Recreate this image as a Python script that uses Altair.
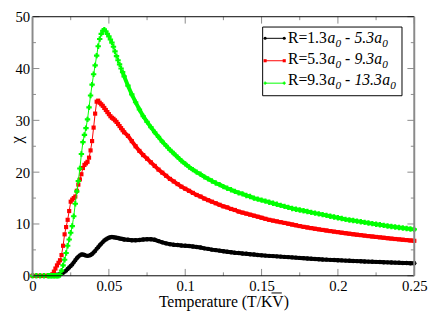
import altair as alt
import pandas as pd

# ---------------- data ----------------
T = [0.0, 0.0025, 0.005, 0.0075, 0.01,
     0.011, 0.012, 0.013, 0.014, 0.015, 0.016, 0.017, 0.018, 0.019, 0.020,
     0.021, 0.022, 0.023, 0.024, 0.025, 0.026, 0.027, 0.028, 0.029, 0.030,
     0.031, 0.032, 0.033, 0.034, 0.035, 0.036, 0.037, 0.038, 0.039, 0.040,
     0.041, 0.042, 0.043, 0.044, 0.045, 0.046, 0.047, 0.048, 0.049, 0.050,
     0.051, 0.052, 0.053, 0.054, 0.055, 0.056, 0.057, 0.058, 0.059, 0.060,
     0.0625, 0.065, 0.0675, 0.07, 0.0725, 0.075, 0.0775, 0.08, 0.0825, 0.085,
     0.0875, 0.09, 0.0925, 0.095, 0.0975, 0.1, 0.1025, 0.105, 0.1075, 0.11,
     0.1125, 0.115, 0.1175, 0.12, 0.1225, 0.125, 0.1275, 0.13, 0.1325, 0.135,
     0.1375, 0.14, 0.1425, 0.145, 0.1475, 0.15, 0.1525, 0.155, 0.1575, 0.16,
     0.1625, 0.165, 0.1675, 0.17, 0.1725, 0.175, 0.1775, 0.18, 0.1825, 0.185,
     0.1875, 0.19, 0.1925, 0.195, 0.1975, 0.2, 0.2025, 0.205, 0.2075, 0.21,
     0.2125, 0.215, 0.2175, 0.22, 0.2225, 0.225, 0.2275, 0.23, 0.2325, 0.235,
     0.2375, 0.24, 0.2425, 0.245, 0.2475, 0.25]

chi_black = [0, 0, 0, 0, 0.02,
     0.05, 0.05, 0.1, 0.1, 0.15, 0.2, 0.2, 0.3, 0.45, 0.6,
     0.8, 1.0, 1.3, 1.6, 1.9, 2.2, 2.6, 3.0, 3.4, 3.7,
     3.95, 4.1, 4.1, 4.0, 3.9, 3.85, 3.9, 4.0, 4.2, 4.5,
     4.8, 5.2, 5.5, 5.9, 6.2, 6.5, 6.8, 7.0, 7.2, 7.35,
     7.45, 7.5, 7.45, 7.4, 7.35, 7.3, 7.2, 7.15, 7.1, 7.0,
     6.95, 6.85, 6.85, 6.9, 7.0, 7.05, 7.05, 6.95, 6.7, 6.45,
     6.25, 6.1, 6.0, 5.95, 5.85, 5.8, 5.75, 5.65, 5.55, 5.45,
     5.3, 5.2, 5.05, 4.95, 4.85, 4.75, 4.65, 4.55, 4.45, 4.4,
     4.3, 4.25, 4.15, 4.1, 4.0, 3.95, 3.9, 3.85, 3.8, 3.75,
     3.7, 3.65, 3.6, 3.55, 3.5, 3.45, 3.4, 3.35, 3.3, 3.25,
     3.2, 3.15, 3.12, 3.08, 3.04, 3.0, 2.97, 2.93, 2.9, 2.86,
     2.83, 2.8, 2.77, 2.74, 2.71, 2.68, 2.65, 2.62, 2.59, 2.56,
     2.54, 2.51, 2.48, 2.46, 2.43, 2.41]

chi_red = [0, 0, 0, 0, 0.02,
     0.05, 0.1, 0.3, 0.8, 1.4, 2.0, 2.5, 3.0, 4.0, 5.8,
     8.0, 9.4, 10.8, 12.5, 14.3, 14.7, 15.0, 15.3, 16.4, 17.6,
     18.6, 19.6, 20.8, 21.4, 21.7, 22.0, 22.8, 24.2, 26.0, 28.6,
     31.3, 33.6, 33.8, 33.4, 33.1, 32.8, 32.4, 32.0, 31.6, 31.2,
     30.8, 30.5, 30.3, 30.0, 29.7, 29.3, 28.9, 28.5, 28.1, 27.7,
     27.0, 26.0, 25.0, 24.1, 23.3, 22.6, 21.9, 21.2, 20.5, 19.9,
     19.3, 18.7, 18.2, 17.7, 17.2, 16.8, 16.4, 16.0, 15.6, 15.3,
     14.9, 14.6, 14.3, 14.0, 13.7, 13.4, 13.2, 12.9, 12.7, 12.4,
     12.2, 12.0, 11.8, 11.6, 11.4, 11.2, 11.0, 10.8, 10.65, 10.5,
     10.35, 10.2, 10.05, 9.9, 9.75, 9.6, 9.45, 9.33, 9.2, 9.08,
     8.96, 8.85, 8.74, 8.63, 8.52, 8.42, 8.32, 8.22, 8.12, 8.02,
     7.93, 7.84, 7.75, 7.66, 7.58, 7.5, 7.42, 7.34, 7.26, 7.18,
     7.1, 7.03, 6.96, 6.89, 6.82, 6.75]

chi_green = [0, 0, 0, 0, 0,
     0, 0, 0, 0, 0, 0, 0.02, 0.15, 1.0, 2.0,
     3.1, 4.4, 5.8, 7.0, 8.3, 9.6, 11.5, 13.9, 16.3, 18.3,
     20.7, 23.5, 25.8, 27.2, 28.5, 30.2, 32.5, 34.8, 36.9, 38.9,
     40.6, 42.5, 44.3, 45.7, 46.7, 47.3, 47.5, 47.2, 46.7, 46.2,
     45.6, 45.0, 44.2, 43.3, 42.4, 41.6, 40.8, 40.0, 39.3, 38.5,
     36.7, 35.0, 33.5, 32.1, 30.8, 29.7, 28.7, 27.7, 26.8, 25.9,
     25.1, 24.3, 23.6, 22.9, 22.2, 21.6, 21.0, 20.5, 20.0, 19.6,
     19.1, 18.7, 18.3, 17.9, 17.6, 17.2, 16.9, 16.6, 16.3, 16.0,
     15.8, 15.5, 15.3, 15.0, 14.8, 14.6, 14.4, 14.2, 14.0, 13.8,
     13.6, 13.4, 13.2, 13.0, 12.85, 12.7, 12.55, 12.4, 12.25, 12.1,
     11.95, 11.8, 11.65, 11.5, 11.35, 11.2, 11.05, 10.9, 10.78, 10.66,
     10.54, 10.42, 10.3, 10.18, 10.06, 9.95, 9.84, 9.73, 9.62, 9.52,
     9.42, 9.32, 9.22, 9.13, 9.04, 8.95]

series_colors = ["#000000", "#ff0000", "#00ff00"]
series_shapes = ["circle", "square", "cross"]
series_sizes = [20, 18, 30]
legend_lo = ["1.3", "5.3", "9.3"]
legend_hi = ["5.3", "9.3", "13.3"]

x_major = [0, 0.05, 0.1, 0.15, 0.2, 0.25]
x_minor = [0.025, 0.075, 0.125, 0.175, 0.225]
y_major = [0, 10, 20, 30, 40, 50]
y_minor = [5, 15, 25, 35, 45]

# ---------------- chart ----------------
W, H = 389, 264
FONT = "Liberation Serif"
TICK_C = "#8a8a8a"
MAJ, MIN = 7, 3.5
XTITLE = "Temperature (T/KV)"

xs = alt.Scale(domain=[0, 0.25], nice=False, zero=False)
ys = alt.Scale(domain=[0, 50], nice=False, zero=False)

XAX = alt.Axis(
    values=x_major, format="~g", domain=False, ticks=False, tickSize=0, grid=False,
    labelFont=FONT, labelFontSize=15, labelColor="black", labelPadding=3,
    labelFlush=False, labelOverlap=False,
    title=XTITLE, titleFont=FONT, titleFontSize=16,
    titleFontWeight="normal", titleColor="black", titleY=31,
    titleBaseline="alphabetic")
YAX = alt.Axis(
    values=y_major, format="d", domain=False, ticks=False, tickSize=0, grid=False,
    labelFont=FONT, labelFontSize=15, labelColor="black", labelPadding=3,
    labelFlush=False, labelOverlap=False,
    title="\u03c7", titleFont=FONT, titleFontSize=17, titleFontWeight="normal",
    titleColor="black", titleX=-11, titleY=125, titleBaseline="alphabetic")


def X(field):
    return alt.X(f"{field}:Q", scale=xs, axis=XAX, title=XTITLE)


def Y(field):
    return alt.Y(f"{field}:Q", scale=ys, axis=YAX, title="\u03c7")


layers = []

for k, chi in enumerate([chi_black, chi_red, chi_green]):
    df = pd.DataFrame({"T": T, "chi": chi})
    base = alt.Chart(df).encode(x=X("T"), y=Y("chi"))
    layers.append(base.mark_line(color=series_colors[k], strokeWidth=1))
    # the dense tail, where the markers merge into a thick band
    layers.append(base.transform_filter("datum.T >= 0.059").mark_line(
        color=series_colors[k], strokeWidth=4, strokeCap="round"))
    layers.append(base.mark_point(color=series_colors[k], filled=True, opacity=1,
                                  shape=series_shapes[k], size=series_sizes[k]))

one = alt.Chart(pd.DataFrame({"d": [0]}))
frame = [
    one.mark_rule(color="black", strokeWidth=1).encode(x=alt.value(0), x2=alt.value(W), y=alt.value(0)),
    one.mark_rule(color="black", strokeWidth=1).encode(x=alt.value(0), x2=alt.value(W), y=alt.value(H)),
    one.mark_rule(color=TICK_C, strokeWidth=2).encode(x=alt.value(0), y=alt.value(0), y2=alt.value(H)),
    one.mark_rule(color=TICK_C, strokeWidth=2).encode(x=alt.value(W), y=alt.value(0), y2=alt.value(H)),
]


# ticks pointing inward on all four sides
def xticks(vals, ln):
    c = alt.Chart(pd.DataFrame({"T": vals}))
    return [c.mark_rule(color=TICK_C, strokeWidth=1).encode(x=X("T"), y=alt.value(H), y2=alt.value(H - ln)),
            c.mark_rule(color=TICK_C, strokeWidth=1).encode(x=X("T"), y=alt.value(0), y2=alt.value(ln))]


def yticks(vals, ln):
    c = alt.Chart(pd.DataFrame({"chi": vals}))
    return [c.mark_rule(color=TICK_C, strokeWidth=1).encode(y=Y("chi"), x=alt.value(0), x2=alt.value(ln)),
            c.mark_rule(color=TICK_C, strokeWidth=1).encode(y=Y("chi"), x=alt.value(W), x2=alt.value(W - ln))]


layers += xticks(x_major, MAJ) + xticks(x_minor, MIN) + yticks(y_major, MAJ) + yticks(y_minor, MIN)
layers += frame

# overline over the V of the axis title
layers.append(one.mark_rule(color="black", strokeWidth=1).encode(
    x=alt.value(243.5), x2=alt.value(254), y=alt.value(281.5)))

# legend, drawn by hand to get the italic subscripted a0
layers.append(one.mark_rect(fill="white", stroke="black", strokeWidth=1).encode(
    x=alt.value(234.5), x2=alt.value(376.5), y=alt.value(10.5), y2=alt.value(80.5)))

FS, SFS = 16, 11.5
for r in range(3):
    sy = 22 + 22.85 * r
    by = 26.5 + 21.65 * r
    sb = by + 4
    extra = (len(legend_hi[r]) - 3) * 8
    c = series_colors[r]
    layers.append(one.mark_rule(color=c, strokeWidth=1).encode(
        x=alt.value(237), x2=alt.value(256.5), y=alt.value(sy)))
    for px in (237, 256.5):
        layers.append(one.mark_point(color=c, filled=True, opacity=1, size=10,
                                     shape=series_shapes[r]).encode(x=alt.value(px), y=alt.value(sy)))
    pieces = [
        ("R=" + legend_lo[r], 260.3, by, "normal", FS),
        ("a", 300.5, by, "italic", FS),
        ("0", 308.8, sb, "italic", SFS),
        ("-", 318.5, by, "italic", FS),
        (legend_hi[r], 328.0, by, "italic", FS),
        ("a", 348.3 + extra, by, "italic", FS),
        ("0", 356.5 + extra, sb, "italic", SFS),
    ]
    for txt, px, py, style, fs in pieces:
        layers.append(one.mark_text(text=txt, align="left", baseline="alphabetic", font=FONT,
                                    fontSize=fs, fontStyle=style, color="black").encode(
            x=alt.value(px), y=alt.value(py)))

chart = alt.layer(*layers).properties(
    width=W, height=H,
    padding={"left": 25, "top": 6, "right": 14, "bottom": 34},
    autosize=alt.AutoSizeParams(type="none"),
    background="white",
).configure_view(stroke=None)

chart.save("out.html", embed_options={"renderer": "svg", "actions": False})
